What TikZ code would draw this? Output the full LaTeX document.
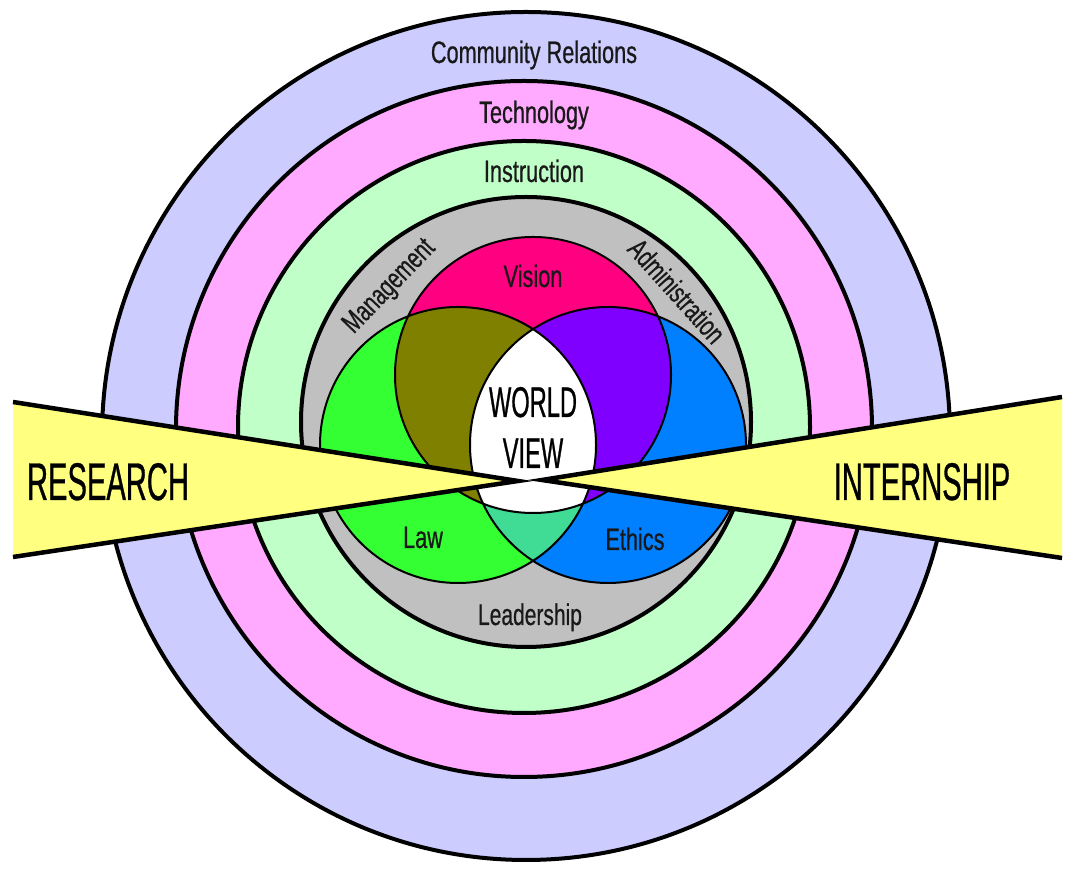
\documentclass[tikz,border=0pt]{standalone}
\usepackage{fontspec}
\setmainfont{Liberation Sans}[FakeStretch=0.7, FakeBold=0.6]
\newfontfamily\capsfont{Liberation Sans}[FakeStretch=0.55, FakeBold=0.6]

\definecolor{commcol}{RGB}{204,204,255}
\definecolor{techcol}{RGB}{255,170,255}
\definecolor{instcol}{RGB}{192,255,200}
\definecolor{leadcol}{RGB}{192,192,192}
\definecolor{viscol}{RGB}{255,0,128}
\definecolor{lawcol}{RGB}{51,255,51}
\definecolor{ethcol}{RGB}{0,128,255}
\definecolor{olivecol}{RGB}{128,128,0}
\definecolor{violcol}{RGB}{128,0,255}
\definecolor{tealcol}{RGB}{64,220,150}
\definecolor{wedgecol}{RGB}{255,255,128}

\begin{document}
\begin{tikzpicture}[x=1pt, y=1pt,
    ring/.style={draw=black, line width=4pt},
    petal/.style={draw=black, line width=2pt},
    lbl/.style={font=\fontsize{31}{31}\selectfont, text=black!90, inner sep=0pt},
    biglbl/.style={font=\capsfont\fontsize{53}{53}\selectfont, text=black, inner sep=0pt}]
    \useasboundingbox (0,0) rectangle (1065,869);
    \fill[white] (0,0) rectangle (1065,869);
    % rings, outside in
    \filldraw[ring, fill=commcol] (526,433) circle (424);
    \filldraw[ring, fill=techcol] (524,440) circle (348);
    \filldraw[ring, fill=instcol] (524,442) circle (286);
    \filldraw[ring, fill=leadcol] (526,447) circle (225);
    % venn
    \coordinate (V) at (533,494);
    \coordinate (L) at (458,424);
    \coordinate (E) at (608,424);
    \fill[lawcol] (L) circle (138);
    \fill[ethcol] (E) circle (138);
    \fill[viscol] (V) circle (138);
    \begin{scope}
      \clip (V) circle (138);
      \fill[olivecol] (L) circle (138);
      \fill[violcol] (E) circle (138);
    \end{scope}
    \begin{scope}
      \clip (L) circle (138);
      \fill[tealcol] (E) circle (138);
      \clip (V) circle (138);
      \fill[white] (E) circle (138);
    \end{scope}
    \draw[petal] (L) circle (138) (E) circle (138) (V) circle (138);
    % wedges
    \coordinate (Rt) at (13,467);
    \coordinate (Rb) at (13,312);
    \coordinate (Rp) at (518,388);
    \coordinate (It) at (1062,472);
    \coordinate (Ib) at (1062,311);
    \coordinate (Ip) at (542,389);
    \fill[wedgecol] (Rt) -- (Rp) -- (Rb) -- cycle;
    \fill[wedgecol] (It) -- (Ip) -- (Ib) -- cycle;
    \draw[line width=4.5pt] (Rt) -- (Rp) -- (Rb);
    \draw[line width=4.5pt] (It) -- (Ip) -- (Ib);
    % labels
    \node[lbl, anchor=base] (comm) at (534,806) {Community Relations};
    \node[lbl, anchor=base] (tech) at (534,746) {Technology};
    \node[lbl, anchor=base] (inst) at (534,687) {Instruction};
    \node[lbl, rotate=46, font=\fontsize{29}{29}\selectfont] (mgmt) at (390,582) {Management};
    \node[lbl, rotate=-48, font=\fontsize{29}{29}\selectfont] (admin) at (677,578) {Administration};
    \node[lbl, anchor=base] (vis) at (533,582) {Vision};
    \node[lbl, anchor=base] (law) at (423,321) {Law};
    \node[lbl, anchor=base] (eth) at (635,319) {Ethics};
    \node[lbl, anchor=base, font=\fontsize{30}{30}\selectfont] (lead) at (530,244) {Leadership};
    \node[biglbl, anchor=base, font=\capsfont\fontsize{43}{43}\selectfont] (world) at (533,452) {WORLD};
    \node[biglbl, anchor=base, font=\capsfont\fontsize{43}{43}\selectfont] (view) at (533,401) {VIEW};
    \node[biglbl, anchor=base] (res) at (108,369) {RESEARCH};
    \node[biglbl, anchor=base] (intern) at (922,369) {INTERNSHIP};
\end{tikzpicture}
\end{document}
